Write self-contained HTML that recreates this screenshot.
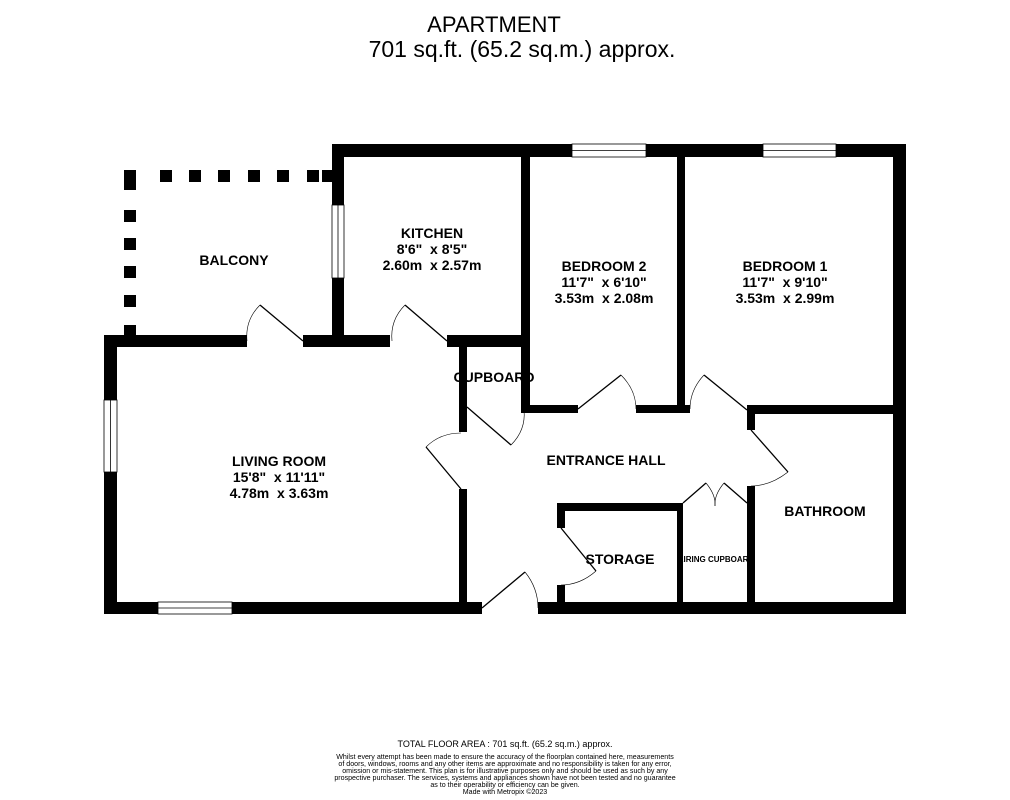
<!DOCTYPE html>
<html><head><style>body{margin:0;background:#fff}svg{display:block}text{font-family:"Liberation Sans",sans-serif}</style></head><body>
<svg width="1010" height="800" viewBox="0 0 1010 800" xmlns="http://www.w3.org/2000/svg">
<text x="494" y="32" font-size="22" text-anchor="middle">APARTMENT</text>
<text x="522" y="57" font-size="23" text-anchor="middle">701 sq.ft. (65.2 sq.m.) approx.</text>
<g fill="#000">
<rect x="332" y="144" width="574" height="13"/>
<rect x="893" y="144" width="13" height="470"/>
<rect x="104" y="602" width="378" height="12"/>
<rect x="538" y="602" width="368" height="12"/>
<rect x="104" y="335" width="13" height="279"/>
<rect x="104" y="335" width="143" height="12"/>
<rect x="303" y="335" width="87" height="12"/>
<rect x="447" y="335" width="82" height="12"/>
<rect x="332" y="144" width="12" height="203"/>
<rect x="521" y="150" width="9" height="263"/>
<rect x="521" y="405" width="57" height="8"/>
<rect x="636" y="405" width="54" height="8"/>
<rect x="677" y="150" width="8" height="263"/>
<rect x="747" y="405" width="153" height="9"/>
<rect x="747" y="405" width="8" height="25"/>
<rect x="747" y="486" width="8" height="120"/>
<rect x="459" y="340" width="8" height="92"/>
<rect x="459" y="489" width="8" height="117"/>
<rect x="557" y="503" width="126" height="8"/>
<rect x="557" y="503" width="8" height="25"/>
<rect x="557" y="585" width="8" height="21"/>
<rect x="677" y="503" width="6" height="103"/>
<rect x="124" y="170" width="12" height="12"/><rect x="160" y="170" width="12" height="12"/><rect x="189" y="170" width="12" height="12"/><rect x="218" y="170" width="12" height="12"/><rect x="248" y="170" width="12" height="12"/><rect x="277" y="170" width="12" height="12"/><rect x="307" y="170" width="12" height="12"/><rect x="322" y="170" width="10" height="12"/>
<rect x="124" y="170" width="12" height="20"/><rect x="124" y="210" width="12" height="12"/><rect x="124" y="238" width="12" height="12"/><rect x="124" y="266" width="12" height="12"/><rect x="124" y="295" width="12" height="12"/><rect x="124" y="325" width="12" height="20"/>
</g>
<g fill="#fff" stroke="#000" stroke-width="0.8">
<rect x="572" y="144" width="74" height="13"/><line x1="572" y1="150.5" x2="646" y2="150.5"/>
<rect x="763" y="144" width="73" height="13"/><line x1="763" y1="150.5" x2="836" y2="150.5"/>
<rect x="158" y="602" width="74" height="12"/><line x1="158" y1="608" x2="232" y2="608"/>
<rect x="104" y="400" width="13" height="72"/><line x1="110.5" y1="400" x2="110.5" y2="472"/>
<rect x="332" y="205" width="12" height="73"/><line x1="338" y1="205" x2="338" y2="278"/>
</g>
<g fill="none" stroke="#000" stroke-width="1.3">
<line x1="260" y1="305" x2="303" y2="341"/><path d="M260 305 Q245 320 247 341" stroke-width="0.6"/>
<line x1="405" y1="305" x2="447" y2="341"/><path d="M405 305 Q390 320 392 341" stroke-width="0.6"/>
<line x1="467" y1="407" x2="511" y2="445"/><path d="M511 445 Q526 430 524 410" stroke-width="0.6"/>
<line x1="426" y1="447" x2="461" y2="489"/><path d="M426 447 Q440 433 461 433" stroke-width="0.6"/>
<line x1="578" y1="409" x2="621" y2="375"/><path d="M621 375 Q636 390 636 409" stroke-width="0.6"/>
<line x1="704" y1="375" x2="747" y2="410"/><path d="M704 375 Q690 390 690 409" stroke-width="0.6"/>
<line x1="751" y1="430" x2="788" y2="472"/><path d="M788 472 Q770 486 751 486" stroke-width="0.6"/>
<line x1="683" y1="503" x2="706" y2="483"/><path d="M706 483 Q716 495 715 506" stroke-width="0.6"/>
<line x1="747" y1="503" x2="724" y2="483"/><path d="M724 483 Q714 495 715 506" stroke-width="0.6"/>
<line x1="561" y1="528" x2="596" y2="571"/><path d="M596 571 Q580 585 561 585" stroke-width="0.6"/>
<line x1="482" y1="608" x2="525" y2="572"/><path d="M525 572 Q538 588 538 608" stroke-width="0.6"/>
</g>
<g font-weight="bold" font-size="14" text-anchor="middle">
<text x="234" y="265">BALCONY</text>
<text x="432" y="238">KITCHEN</text><text x="432" y="254">8'6"&#160;&#160;x 8'5"</text><text x="432" y="270">2.60m&#160;&#160;x 2.57m</text>
<text x="604" y="271">BEDROOM 2</text><text x="604" y="287">11'7"&#160;&#160;x 6'10"</text><text x="604" y="303">3.53m&#160;&#160;x 2.08m</text>
<text x="785" y="271">BEDROOM 1</text><text x="785" y="287">11'7"&#160;&#160;x 9'10"</text><text x="785" y="303">3.53m&#160;&#160;x 2.99m</text>
<text x="494" y="382">CUPBOARD</text>
<text x="279" y="466">LIVING ROOM</text><text x="279" y="482">15'8"&#160;&#160;x 11'11"</text><text x="279" y="498">4.78m&#160;&#160;x 3.63m</text>
<text x="606" y="465">ENTRANCE HALL</text>
<text x="825" y="516">BATHROOM</text>
<text x="620" y="564">STORAGE</text>
<text x="716" y="562" font-size="8">AIRING CUPBOARD</text>
</g>
<text x="505" y="747" font-size="9" text-anchor="middle">TOTAL FLOOR AREA : 701 sq.ft. (65.2 sq.m.) approx.</text>
<g font-size="7.1" text-anchor="middle">
<text x="505" y="759">Whilst every attempt has been made to ensure the accuracy of the floorplan contained here, measurements</text>
<text x="505" y="766">of doors, windows, rooms and any other items are approximate and no responsibility is taken for any error,</text>
<text x="505" y="773">omission or mis-statement. This plan is for illustrative purposes only and should be used as such by any</text>
<text x="505" y="780">prospective purchaser. The services, systems and appliances shown have not been tested and no guarantee</text>
<text x="505" y="787">as to their operability or efficiency can be given.</text>
<text x="505" y="794">Made with Metropix ©2023</text>
</g>
</svg>
</body></html>
